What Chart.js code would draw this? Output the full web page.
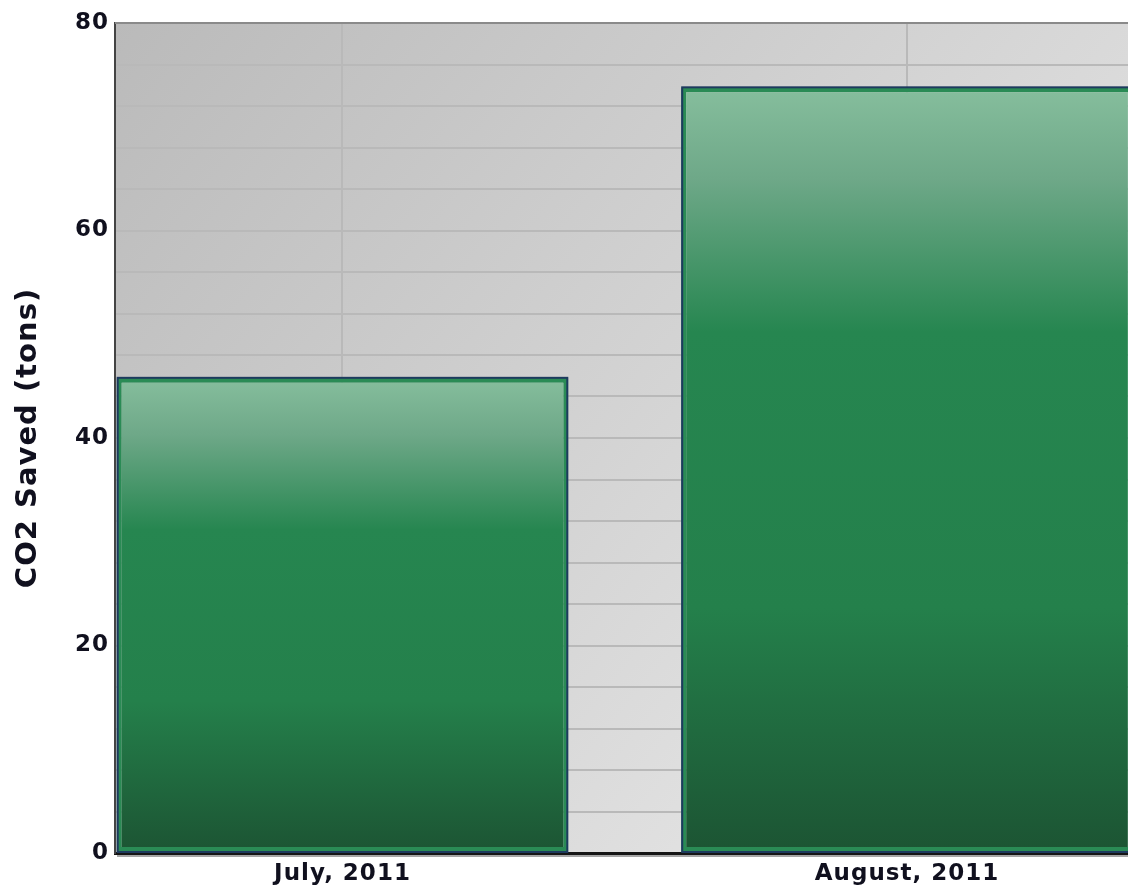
<!DOCTYPE html>
<html>
<head>
<meta charset="utf-8">
<script src="https://cdn.jsdelivr.net/npm/chart.js"></script>
<style>
  html, body { margin: 0; padding: 0; background: #fff; }
  #wrap { width: 1128px; height: 892px; }
</style>
</head>
<body>
<div id="wrap"><canvas id="co2chart" width="1128" height="892"></canvas></div>

<script>
    // months on the x axis and CO2 saved for each of them
    const months = ["July, 2011", "August, 2011"];
    const co2Saved = [45.8, 73.8];
    const yTicks = [0, 20, 40, 60, 80];

    // plot background: grey diagonal gradient, grey top edge, shadow under x axis
    const plotBackground = {
        id: 'plotBackground',
        beforeDraw(chart) {
            const {ctx, chartArea: a} = chart;
            const g = ctx.createLinearGradient(a.left, a.top, a.right, a.bottom);
            g.addColorStop(0, '#bababa');
            g.addColorStop(1, '#eeeeee');
            ctx.save();
            ctx.fillStyle = g;
            ctx.fillRect(a.left, a.top, a.right - a.left, a.bottom - a.top);
            ctx.restore();
            // slightly wider letters, like the original
            ctx.letterSpacing = '1px';
        },
        afterDraw(chart) {
            const {ctx, chartArea: a} = chart;
            ctx.save();
            ctx.strokeStyle = '#8a8a8a';
            ctx.lineWidth = 2;
            ctx.beginPath();
            ctx.moveTo(a.left, a.top);
            ctx.lineTo(a.right, a.top);
            ctx.stroke();
            ctx.strokeStyle = 'rgba(0,0,0,0.35)';
            ctx.lineWidth = 2;
            ctx.beginPath();
            ctx.moveTo(a.left + 2, a.bottom + 3);
            ctx.lineTo(a.right, a.bottom + 3);
            ctx.stroke();
            ctx.restore();
        }
    };

    // thin navy outline around each bar
    const barOutline = {
        id: 'barOutline',
        afterDatasetsDraw(chart) {
            const {ctx, chartArea: a} = chart;
            const meta = chart.getDatasetMeta(0);
            ctx.save();
            ctx.beginPath();
            ctx.rect(a.left, a.top - 5, a.right - a.left, a.bottom - a.top + 5);
            ctx.clip();
            ctx.strokeStyle = '#1d3a5e';
            ctx.lineWidth = 2;
            meta.data.forEach(function (bar) {
                const p = bar.getProps(['x', 'y', 'base', 'width'], true);
                ctx.strokeRect(p.x - p.width / 2 + 1, p.y, p.width - 2, p.base - p.y);
            });
            ctx.restore();
        }
    };

    function barFill(c) {
        const chart = c.chart;
        if (!chart.chartArea || !c.parsed) return '#258550';
        const y = chart.scales.y;
        const top = y.getPixelForValue(c.parsed.y);
        const base = y.getPixelForValue(0);
        const g = chart.ctx.createLinearGradient(0, top, 0, base);
        g.addColorStop(0, '#86be9d');
        g.addColorStop(0.12, '#6ea888');
        g.addColorStop(0.32, '#268650');
        g.addColorStop(0.68, '#24804b');
        g.addColorStop(1, '#1c5433');
        return g;
    }

    const config = {
        type: 'bar',
        data: {
            datasets: [{
                label: 'CO2 Saved',
                data: co2Saved.map(function (v, i) { return {x: i, y: v}; }),
                backgroundColor: barFill,
                borderColor: '#2a8b55',
                borderWidth: 5,
                borderSkipped: false,
                barPercentage: 1,
                categoryPercentage: 0.8,
                clip: {left: 5, top: 5, right: 0, bottom: 5}
            }]
        },
        options: {
            responsive: false,
            animation: false,
            layout: {padding: {top: 23, right: 0, left: 0, bottom: 0}},
            plugins: {
                legend: {display: false},
                tooltip: {enabled: false}
            },
            scales: {
                x: {
                    type: 'linear',
                    offset: false,
                    min: -0.403,
                    max: 1.3915,
                    afterBuildTicks(scale) {
                        scale.ticks = months.map(function (m, i) { return {value: i}; });
                    },
                    afterFit(scale) { scale.height = 39; },
                    ticks: {
                        callback: function (v) { return months[v]; },
                        font: {family: 'DejaVu Sans', weight: 'bold', size: 23},
                        color: '#10101e',
                        padding: 7,
                        maxRotation: 0
                    },
                    grid: {color: '#b9b9b9', lineWidth: 2, drawTicks: false, offset: false},
                    border: {color: '#151515', width: 3}
                },
                y: {
                    min: 0,
                    max: 80,
                    afterFit(scale) { scale.width = 115; },
                    ticks: {
                        stepSize: 4,
                        callback: function (v) { return yTicks.indexOf(v) >= 0 ? v : ''; },
                        font: {family: 'DejaVu Sans', weight: 'bold', size: 23},
                        color: '#10101e',
                        padding: 6
                    },
                    grid: {color: '#b9b9b9', lineWidth: 2, drawTicks: false},
                    border: {color: '#444444', width: 2},
                    title: {
                        display: true,
                        text: 'CO2 Saved (tons)',
                        font: {family: 'DejaVu Sans', weight: 'bold', size: 29},
                        color: '#10101e',
                        padding: {top: 11, bottom: 0}
                    }
                }
            }
        },
        plugins: [plotBackground, barOutline]
    };

    const co2chart = new Chart(document.getElementById('co2chart'), config);
</script>
</body>
</html>
